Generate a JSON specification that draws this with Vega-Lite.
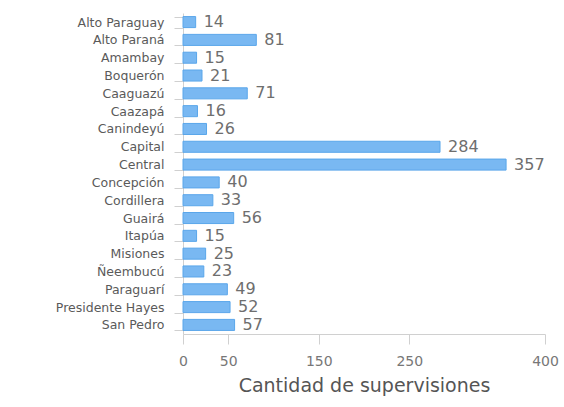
{
  "$schema": "https://vega.github.io/schema/vega-lite/v6.json",
  "width": 362,
  "height": 321,
  "autosize": {"type": "none"},
  "padding": {"left": 183, "top": 13, "right": 19, "bottom": 73},
  "background": "white",
  "config": {"view": {"stroke": null}, "font": "DejaVu Sans"},
  "data": {"values": [
    {"dep": "Alto Paraguay", "n": 14},
    {"dep": "Alto Paraná", "n": 81},
    {"dep": "Amambay", "n": 15},
    {"dep": "Boquerón", "n": 21},
    {"dep": "Caaguazú", "n": 71},
    {"dep": "Caazapá", "n": 16},
    {"dep": "Canindeyú", "n": 26},
    {"dep": "Capital", "n": 284},
    {"dep": "Central", "n": 357},
    {"dep": "Concepción", "n": 40},
    {"dep": "Cordillera", "n": 33},
    {"dep": "Guairá", "n": 56},
    {"dep": "Itapúa", "n": 15},
    {"dep": "Misiones", "n": 25},
    {"dep": "Ñeembucú", "n": 23},
    {"dep": "Paraguarí", "n": 49},
    {"dep": "Presidente Hayes", "n": 52},
    {"dep": "San Pedro", "n": 57}
  ]},
  "encoding": {
    "y": {
      "field": "dep", "type": "nominal", "sort": null,
      "scale": {"paddingInner": 0.38, "paddingOuter": 0.2},
      "axis": {
        "title": null, "labelFontSize": 12.5, "labelColor": "#5a5a5a",
        "tickBand": "extent", "tickSize": 9, "tickColor": "#d0d0d0",
        "domainColor": "#d0d0d0", "labelPadding": 10
      }
    },
    "x": {
      "field": "n", "type": "quantitative",
      "scale": {"domain": [0, 400], "nice": false},
      "axis": {
        "values": [0, 50, 150, 250, 400], "grid": false, "labelFlush": false,
        "title": "Cantidad de supervisiones", "titleFontSize": 19,
        "titleFontWeight": "normal", "titleColor": "#555555", "titlePadding": 8,
        "labelFontSize": 14, "labelColor": "#777777", "labelPadding": 10,
        "tickSize": 10, "tickColor": "#d0d0d0", "domainColor": "#d0d0d0"
      }
    }
  },
  "layer": [
    {"mark": {"type": "bar", "fill": "#79b8f2", "stroke": "#5aa6ea", "strokeWidth": 1}},
    {"mark": {"type": "text", "align": "left", "dx": 8, "fontSize": 16, "color": "#6e6e6e"},
     "encoding": {"text": {"field": "n", "type": "quantitative"}}}
  ]
}
